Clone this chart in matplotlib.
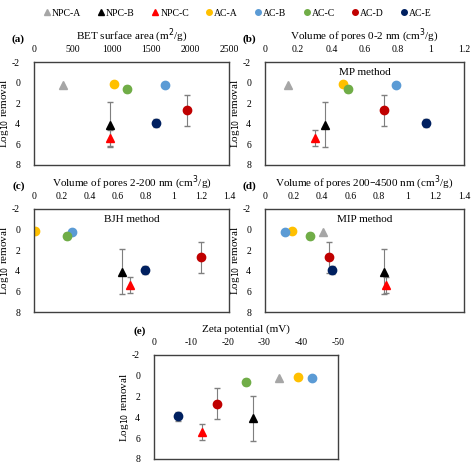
import numpy as np
import matplotlib.pyplot as plt
from matplotlib.lines import Line2D

plt.rcParams['font.family'] = ['Liberation Serif', 'DejaVu Serif']
plt.rcParams['font.size'] = 7
plt.rcParams['axes.unicode_minus'] = False

names = ["NPC-A", "NPC-B", "NPC-C", "AC-A", "AC-B", "AC-C", "AC-D", "AC-E"]
colors = ["#a6a6a6", "#000000", "#ff0000", "#ffc000", "#5b9bd5", "#70ad47", "#c00000", "#002060"]
markers = ["^", "^", "^", "o", "o", "o", "o", "o"]
log_removal = [0.2, 4.1, 5.4, 0.1, 0.2, 0.6, 2.7, 3.9]
log_err = [0.0, 2.2, 0.8, 0.0, 0.0, 0.3, 1.5, 0.4]

bet = [370, 970, 970, 1020, 1680, 1190, 1960, 1560]
mp = [0.14, 0.36, 0.30, 0.47, 0.79, 0.50, 0.72, 0.97]
bjh = [np.nan, 0.63, 0.69, 0.01, 0.27, 0.24, 1.20, 0.80]
mip = [0.41, 0.84, 0.85, 0.19, 0.14, 0.32, 0.45, 0.47]
zeta = [-34, -27, -13, -39, -43, -25, -17, -6.5]

W, H = 474, 467
fig = plt.figure(figsize=(W / 100, H / 100), dpi=100)

def add_panel(x0, x1, y0, y1):
    return fig.add_axes([x0 / W, 1 - y1 / H, (x1 - x0) / W, (y1 - y0) / H])

panels = [
    (bet, "BET surface area (m$^2$/g)", (0, 2500), np.arange(0, 2501, 500), None, "(a)", (34, 229, 62, 165)),
    (mp, "Volume of pores 0-2 nm (cm$^3$/g)", (0, 1.2), np.arange(0, 1.21, 0.2), "MP method", "(b)", (265, 464, 62, 165)),
    (bjh, "Volume of pores 2-200 nm (cm$^3$/g)", (0, 1.4), np.arange(0, 1.41, 0.2), "BJH method", "(c)", (34, 229, 209, 312)),
    (mip, "Volume of pores 200\u20134500 nm (cm$^3$/g)", (0, 1.4), np.arange(0, 1.41, 0.2), "MIP method", "(d)", (265, 464, 209, 312)),
    (zeta, "Zeta potential (mV)", (0, -50), np.arange(0, -51, -10), None, "(e)", (154, 338, 355, 459)),
]

for xs, xlabel, xlim, xticks, method, tag, box in panels:
    ax = add_panel(*box)
    for i in range(len(names)):
        if np.isnan(xs[i]):
            continue
        ax.errorbar(xs[i], log_removal[i], yerr=log_err[i] if log_err[i] > 0 else None,
                    fmt=markers[i], color=colors[i], ms=6, ecolor="#7f7f7f",
                    elinewidth=0.8, capsize=2)
    ax.set_xlim(*xlim)
    ax.set_ylim(8, -2)
    ax.set_yticks(np.arange(-2, 9, 2))
    ax.set_xticks(xticks)
    ax.set_xticklabels([f"{t:g}" for t in xticks])
    ax.xaxis.tick_top()
    ax.xaxis.set_label_position("top")
    ax.tick_params(length=0, pad=6, labelsize=7)
    ax.tick_params(axis="y", pad=10)
    ax.set_xlabel(xlabel, fontsize=8, labelpad=4)
    ax.set_ylabel("Log$_{10}$ removal", fontsize=8, labelpad=1)
    for s in ax.spines.values():
        s.set_color("#404040")
        s.set_linewidth(1)
    if method:
        ax.text(0.5, 0.9, method, transform=ax.transAxes, ha="center", va="center", fontsize=8)
    ax.text(-0.08, 1.2, tag, transform=ax.transAxes, ha="center", fontsize=8, fontweight="bold")

handles = [Line2D([], [], marker=m, color=c, ls="none", ms=4) for m, c in zip(markers, colors)]
fig.legend(handles, names, loc="upper center", ncol=8, frameon=False, fontsize=7,
           bbox_to_anchor=(0.5, 1.0), handletextpad=0.0, columnspacing=1.6, handlelength=1.0)

fig.savefig("out.png", dpi=100)
